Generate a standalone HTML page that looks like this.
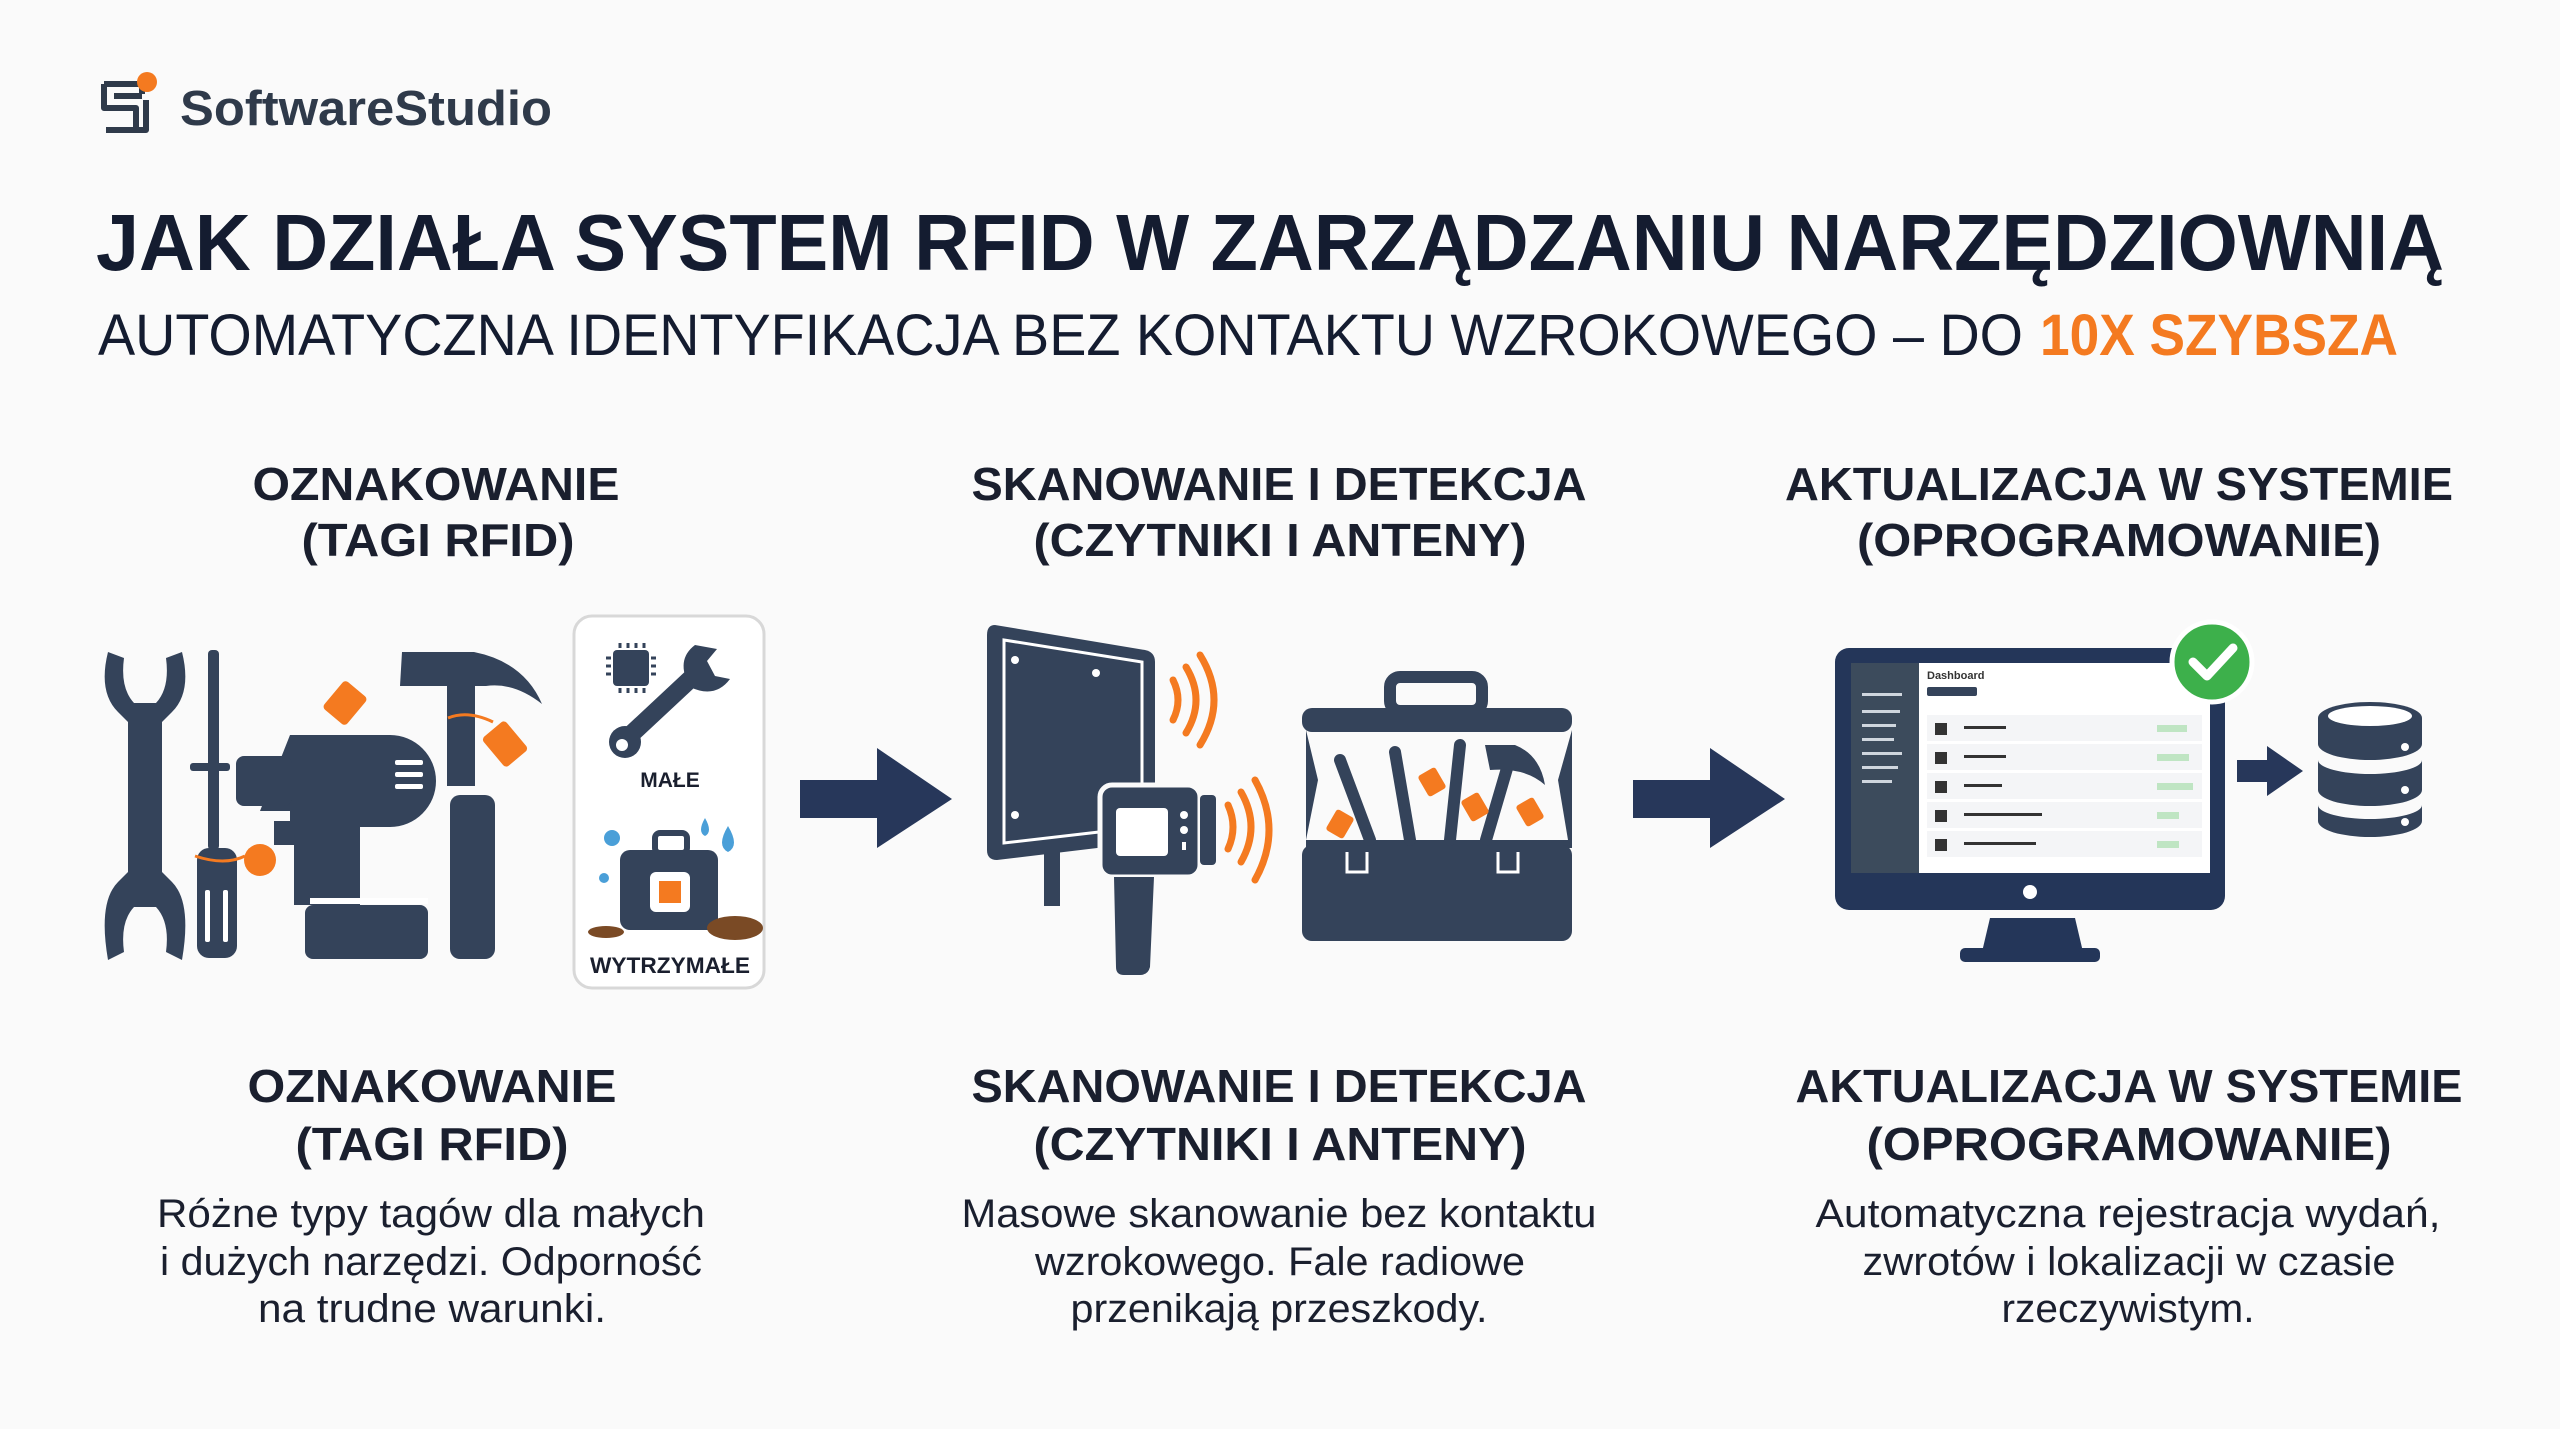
<!DOCTYPE html>
<html><head><meta charset="utf-8"><style>
html,body{margin:0;padding:0;background:#fafafa;}
svg{display:block;}
text{font-family:"Liberation Sans",sans-serif;}
</style></head><body>
<svg width="2560" height="1429" viewBox="0 0 2560 1429" xmlns="http://www.w3.org/2000/svg">
<rect width="2560" height="1429" fill="#fafafa"/>
<!-- logo -->
<g fill="none" stroke="#2f3a4a" stroke-width="6" stroke-linejoin="round">
<path d="M104 84 h38 v10 M104 84 v24 h32 v22 h-30"/>
<path d="M114 96 h28 M146 100 v30 h-40"/>
</g>
<circle cx="147" cy="82" r="10" fill="#f47a20"/>
<text x="180" y="125" font-size="49" font-weight="bold" fill="#2f3a4a" textLength="372" lengthAdjust="spacingAndGlyphs">SoftwareStudio</text>
<!-- title -->
<text x="96" y="270" font-size="80" font-weight="bold" fill="#141c30" textLength="2348" lengthAdjust="spacingAndGlyphs">JAK DZIAŁA SYSTEM RFID W ZARZĄDZANIU NARZĘDZIOWNIĄ</text>
<text x="98" y="355" font-size="58" fill="#141c30" textLength="1925" lengthAdjust="spacingAndGlyphs">AUTOMATYCZNA IDENTYFIKACJA BEZ KONTAKTU WZROKOWEGO – DO</text>
<text x="2040" y="355" font-size="58" font-weight="bold" fill="#f47a20" textLength="358" lengthAdjust="spacingAndGlyphs">10X SZYBSZA</text>
<!-- top headings -->
<g font-size="46" font-weight="bold" fill="#1a1f2e" text-anchor="middle">
<text x="436" y="500" textLength="367" lengthAdjust="spacingAndGlyphs">OZNAKOWANIE</text>
<text x="438" y="556" textLength="273" lengthAdjust="spacingAndGlyphs">(TAGI RFID)</text>
<text x="1279" y="500" textLength="615" lengthAdjust="spacingAndGlyphs">SKANOWANIE I DETEKCJA</text>
<text x="1280" y="556" textLength="493" lengthAdjust="spacingAndGlyphs">(CZYTNIKI I ANTENY)</text>
<text x="2119" y="500" textLength="668" lengthAdjust="spacingAndGlyphs">AKTUALIZACJA W SYSTEMIE</text>
<text x="2119" y="556" textLength="524" lengthAdjust="spacingAndGlyphs">(OPROGRAMOWANIE)</text>
<text x="432" y="1102" textLength="369" lengthAdjust="spacingAndGlyphs">OZNAKOWANIE</text>
<text x="432" y="1160" textLength="273" lengthAdjust="spacingAndGlyphs">(TAGI RFID)</text>
<text x="1279" y="1102" textLength="615" lengthAdjust="spacingAndGlyphs">SKANOWANIE I DETEKCJA</text>
<text x="1280" y="1160" textLength="493" lengthAdjust="spacingAndGlyphs">(CZYTNIKI I ANTENY)</text>
<text x="2129" y="1102" textLength="667" lengthAdjust="spacingAndGlyphs">AKTUALIZACJA W SYSTEMIE</text>
<text x="2129" y="1160" textLength="525" lengthAdjust="spacingAndGlyphs">(OPROGRAMOWANIE)</text>
</g>
<g font-size="40" fill="#1a1f2e" text-anchor="middle">
<text x="431" y="1227" textLength="548" lengthAdjust="spacingAndGlyphs">Różne typy tagów dla małych</text>
<text x="431" y="1275" textLength="542" lengthAdjust="spacingAndGlyphs">i dużych narzędzi. Odporność</text>
<text x="432" y="1322" textLength="348" lengthAdjust="spacingAndGlyphs">na trudne warunki.</text>
<text x="1279" y="1227" textLength="635" lengthAdjust="spacingAndGlyphs">Masowe skanowanie bez kontaktu</text>
<text x="1280" y="1275" textLength="490" lengthAdjust="spacingAndGlyphs">wzrokowego. Fale radiowe</text>
<text x="1279" y="1322" textLength="417" lengthAdjust="spacingAndGlyphs">przenikają przeszkody.</text>
<text x="2128" y="1227" textLength="625" lengthAdjust="spacingAndGlyphs">Automatyczna rejestracja wydań,</text>
<text x="2129" y="1275" textLength="533" lengthAdjust="spacingAndGlyphs">zwrotów i lokalizacji w czasie</text>
<text x="2128" y="1322" textLength="253" lengthAdjust="spacingAndGlyphs">rzeczywistym.</text>
</g>
<!-- LEFT TOOLS -->
<g fill="#34435a">
<path d="M108 652 q-10 40 10 60 l10 10 v150 l-10 10 q-20 20 -10 78 l16 -8 q-4 -30 10 -45 h22 q14 15 10 45 l16 8 q10 -58 -10 -78 l-10 -10 v-150 l10 -10 q20 -20 10 -60 l-16 6 q4 30 -10 45 h-22 q-14 -15 -10 -45z"/>
<rect x="208" y="650" width="11" height="200" rx="4"/>
<rect x="190" y="763" width="40" height="8" rx="3"/>
<rect x="197" y="848" width="40" height="110" rx="12"/>
<path d="M290 735 h100 a46 46 0 0 1 0 92 h-30 v78 h-66 v-60 h-20 v-24 h16 v-10 h-30 z"/>
<rect x="236" y="756" width="56" height="50" rx="8"/>
<rect x="305" y="905" width="123" height="54" rx="8"/>
<path d="M402 652 h72 q50 10 68 52 q-28 -22 -56 -18 h-86z"/>
<rect x="447" y="686" width="28" height="100"/>
<rect x="450" y="795" width="45" height="164" rx="10"/>
</g>
<g fill="#fff"><rect x="395" y="760" width="28" height="5" rx="2"/><rect x="395" y="772" width="28" height="5" rx="2"/><rect x="395" y="784" width="28" height="5" rx="2"/><rect x="205" y="890" width="5" height="52" rx="2"/><rect x="223" y="890" width="5" height="52" rx="2"/><rect x="310" y="898" width="118" height="6"/></g>
<g fill="#f47a20">
<rect x="330" y="685" width="30" height="36" rx="4" transform="rotate(40 345 703)"/>
<rect x="490" y="725" width="30" height="38" rx="4" transform="rotate(-40 505 744)"/>
<circle cx="260" cy="860" r="16"/>
</g>
<path d="M195 856 q30 10 50 0 M448 718 q20 -8 45 4" stroke="#f47a20" stroke-width="3" fill="none"/>
<!-- card -->
<rect x="574" y="616" width="190" height="372" rx="18" fill="#fff" stroke="#d8d8d8" stroke-width="3"/>
<rect x="613" y="650" width="36" height="36" rx="4" fill="#34435a"/>
<g stroke="#34435a" stroke-width="3"><path d="M620 643v5M628 643v5M636 643v5M644 643v5M620 688v5M628 688v5M636 688v5M644 688v5M606 658h5M606 666h5M606 674h5M651 658h5M651 666h5M651 674h5"/></g>
<path d="M625 740 L700 670" stroke="#34435a" stroke-width="18" stroke-linecap="round"/>
<circle cx="625" cy="742" r="16" fill="#34435a"/><circle cx="622" cy="745" r="6" fill="#fff"/>
<path d="M695 645 q-20 15 -5 42 q25 12 40 -8 l-15 -3 l-8 -15 l10 -12z" fill="#34435a"/>
<text x="670" y="787" font-size="21" font-weight="bold" fill="#1a1f2e" text-anchor="middle">MAŁE</text>
<rect x="620" y="850" width="98" height="80" rx="10" fill="#34435a"/>
<rect x="655" y="833" width="32" height="20" rx="5" fill="none" stroke="#34435a" stroke-width="6"/>
<rect x="650" y="872" width="40" height="40" rx="6" fill="#fff"/><rect x="659" y="881" width="22" height="22" fill="#f47a20"/>
<g fill="#4a9fd8"><circle cx="612" cy="838" r="8"/><circle cx="604" cy="878" r="5"/><path d="M705 818 q-8 14 0 18 q8 -4 0 -18z"/><path d="M728 826 q-12 20 0 26 q12 -6 0 -26z"/></g>
<g fill="#7a4a25"><ellipse cx="735" cy="928" rx="28" ry="12"/><ellipse cx="606" cy="932" rx="18" ry="6"/></g>
<text x="670" y="973" font-size="22" font-weight="bold" fill="#1a1f2e" text-anchor="middle" textLength="160" lengthAdjust="spacingAndGlyphs">WYTRZYMAŁE</text>
<!-- main arrows -->
<path d="M800 780 h77 v-32 l75 51 l-75 49 v-30 h-77z" fill="#27375a"/>
<path d="M1633 780 h77 v-32 l75 51 l-75 49 v-30 h-77z" fill="#27375a"/>
<!-- MIDDLE: panel -->
<path d="M995 625 l150 25 q10 2 10 12 v170 q0 8 -8 10 l-150 18 q-10 0 -10 -10 v-215 q0 -10 8 -10z" fill="#34435a"/>
<path d="M1004 640 l138 22 v165 l-138 16 z" fill="none" stroke="#fff" stroke-width="3"/>
<g fill="#fff"><circle cx="1015" cy="660" r="4"/><circle cx="1096" cy="673" r="4"/><circle cx="1015" cy="815" r="4"/></g>
<rect x="1044" y="848" width="16" height="58" fill="#34435a"/>
<rect x="1100" y="785" width="100" height="92" rx="12" fill="#34435a" stroke="#fafafa" stroke-width="5"/>
<rect x="1200" y="795" width="16" height="70" rx="4" fill="#34435a"/>
<rect x="1116" y="808" width="52" height="48" rx="4" fill="#fff"/>
<g fill="#fff"><circle cx="1184" cy="815" r="4"/><circle cx="1184" cy="830" r="4"/><rect x="1182" y="842" width="4" height="8"/></g>
<path d="M1114 877 h40 l-4 90 q-2 8 -10 8 h-16 q-8 0 -8 -8z" fill="#34435a"/>
<g fill="none" stroke="#f47a20" stroke-width="7" stroke-linecap="round">
<path d="M1173 680 q10 20 0 40"/><path d="M1186 667 q20 33 0 66"/><path d="M1200 655 q28 45 0 90"/>
<path d="M1228 805 q10 22 0 44"/><path d="M1241 792 q20 35 0 70"/><path d="M1255 780 q28 50 0 100"/>
</g>
<!-- toolbox -->
<rect x="1390" y="677" width="92" height="34" rx="10" fill="none" stroke="#34435a" stroke-width="12"/>
<rect x="1302" y="708" width="270" height="24" rx="10" fill="#34435a"/>
<path d="M1306 730 l12 50 l-12 60 h262 l-10 -60 l14 -50 v118 h-266z" fill="#34435a"/>
<rect x="1302" y="845" width="270" height="96" rx="10" fill="#34435a"/>
<g fill="none" stroke="#fff" stroke-width="3"><path d="M1347 852 v20 h20 v-20"/><path d="M1498 852 v20 h20 v-20"/></g>
<g stroke="#34435a" stroke-width="12" stroke-linecap="round"><path d="M1340 760 l30 80"/><path d="M1395 752 l15 88"/><path d="M1460 745 l-10 95"/><path d="M1508 765 l-22 75"/></g>
<path d="M1485 745 h30 q25 10 30 40 q-20 -18 -55 -15z" fill="#34435a"/>
<g fill="#f47a20"><rect x="1330" y="812" width="20" height="24" rx="3" transform="rotate(30 1340 824)"/><rect x="1422" y="770" width="20" height="24" rx="3" transform="rotate(-30 1432 782)"/><rect x="1465" y="795" width="20" height="24" rx="3" transform="rotate(-30 1475 807)"/><rect x="1520" y="800" width="20" height="24" rx="3" transform="rotate(-30 1530 812)"/></g>
<!-- RIGHT: monitor -->
<rect x="1835" y="648" width="390" height="262" rx="14" fill="#243659"/>
<rect x="1851" y="663" width="359" height="210" fill="#fff"/>
<rect x="1851" y="663" width="68" height="210" fill="#3c4b5c"/>
<g fill="#cfd6de"><rect x="1862" y="693" width="40" height="3"/><rect x="1862" y="710" width="38" height="3"/><rect x="1862" y="724" width="34" height="3"/><rect x="1862" y="738" width="32" height="3"/><rect x="1862" y="752" width="40" height="3"/><rect x="1862" y="766" width="36" height="3"/><rect x="1862" y="780" width="30" height="3"/></g>
<text x="1927" y="679" font-size="11" font-weight="bold" fill="#333">Dashboard</text>
<rect x="1927" y="687" width="50" height="9" rx="2" fill="#34435a"/>
<g fill="#f4f5f7"><rect x="1927" y="715" width="275" height="26"/><rect x="1927" y="744" width="275" height="26"/><rect x="1927" y="773" width="275" height="26"/><rect x="1927" y="802" width="275" height="26"/><rect x="1927" y="831" width="275" height="26"/></g>
<g fill="#333"><rect x="1964" y="726" width="42" height="3"/><rect x="1964" y="755" width="42" height="3"/><rect x="1964" y="784" width="38" height="3"/><rect x="1964" y="813" width="78" height="3"/><rect x="1964" y="842" width="72" height="3"/><rect x="1935" y="723" width="12" height="12"/><rect x="1935" y="752" width="12" height="12"/><rect x="1935" y="781" width="12" height="12"/><rect x="1935" y="810" width="12" height="12"/><rect x="1935" y="839" width="12" height="12"/></g>
<g fill="#bfe5c3"><rect x="2157" y="725" width="30" height="7"/><rect x="2157" y="754" width="32" height="7"/><rect x="2157" y="783" width="36" height="7"/><rect x="2157" y="812" width="22" height="7"/><rect x="2157" y="841" width="22" height="7"/></g>
<circle cx="2030" cy="892" r="7" fill="#fff"/>
<path d="M1990 918 h85 l8 34 h-101z" fill="#243659"/>
<rect x="1960" y="948" width="140" height="14" rx="5" fill="#243659"/>
<circle cx="2212" cy="662" r="40" fill="#3db04b" stroke="#fff" stroke-width="5"/>
<path d="M2193 662 l14 14 l26 -28" stroke="#fff" stroke-width="9" fill="none" stroke-linecap="round" stroke-linejoin="round"/>
<path d="M2237 760 h30 v-14 l36 25 l-36 25 v-14 h-30z" fill="#27375a"/>
<g fill="#34435a">
<path d="M2318 718 a52 16 0 0 1 104 0 v26 a52 16 0 0 1 -104 0z"/>
<path d="M2318 760 a52 14 0 0 0 104 0 v30 a52 16 0 0 1 -104 0z"/>
<path d="M2318 805 a52 14 0 0 0 104 0 v16 a52 16 0 0 1 -104 0z"/>
</g>
<ellipse cx="2370" cy="716" rx="42" ry="10" fill="#fff"/>
<g fill="#fff"><circle cx="2405" cy="747" r="4"/><circle cx="2405" cy="790" r="4"/><circle cx="2405" cy="822" r="4"/></g>
</svg>
</body></html>
